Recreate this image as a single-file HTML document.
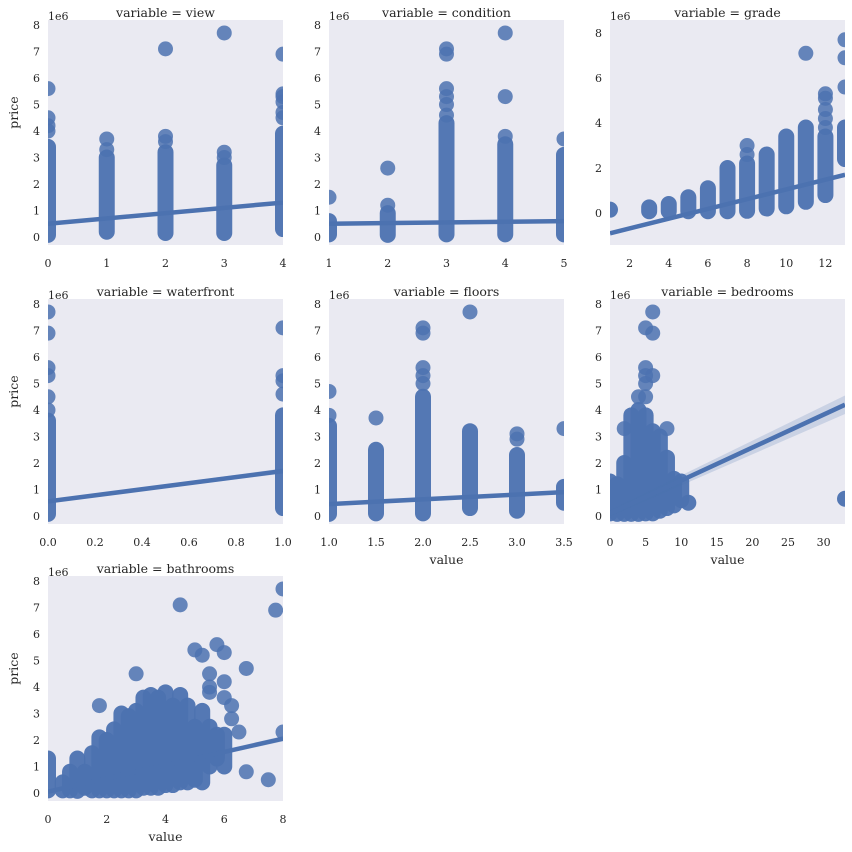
<!DOCTYPE html>
<html><head><meta charset="utf-8">
<style>
html,body{margin:0;padding:0;background:#fff;}
svg{display:block;font-family:"DejaVu Serif","Liberation Serif",serif;}
</style></head>
<body>
<svg id="chart" width="852" height="852" viewBox="0 0 852 852"></svg>
<script>
// ---- data (price in millions) ----
const panelNames = ["view","condition","grade","waterfront","floors","bedrooms","bathrooms"];
const xDomains = [[0,4],[1,5],[1,13],[0,1],[1,3.5],[0,33],[0,8]];
const xTicks = [[0,1,2,3,4],[1,2,3,4,5],[2,4,6,8,10,12],[0,0.2,0.4,0.6,0.8,1.0],[1,1.5,2,2.5,3,3.5],[0,5,10,15,20,25,30],[0,2,4,6,8]];
const xTickLabels = [["0","1","2","3","4"],["1","2","3","4","5"],["2","4","6","8","10","12"],["0.0","0.2","0.4","0.6","0.8","1.0"],["1.0","1.5","2.0","2.5","3.0","3.5"],["0","5","10","15","20","25","30"],["0","2","4","6","8"]];
const yTicksStd = [0,1,2,3,4,5,6,7,8];
const yTicksGrade = [0,2,4,6,8];
// stripes: [x, low, high]
const stripes = [
 [[0,0.08,3.4],[1,0.2,3.0],[2,0.15,3.2],[3,0.15,2.7],[4,0.3,3.9]],
 [[1,0.1,0.6],[2,0.08,0.9],[3,0.1,4.3],[4,0.1,3.5],[5,0.1,3.1]],
 [[1,0.15,0.15],[3,0.08,0.25],[4,0.08,0.4],[5,0.08,0.7],[6,0.08,1.1],[7,0.08,2.0],[8,0.1,2.2],[9,0.2,2.6],[10,0.3,3.4],[11,0.5,3.8],[12,0.8,3.4],[13,2.4,3.8]],
 [[0,0.08,3.6],[1,0.3,3.8]],
 [[1,0.08,3.4],[1.5,0.1,2.5],[2,0.1,4.5],[2.5,0.3,3.2],[3,0.2,2.3],[3.5,0.5,1.1]],
 [[0,0.1,1.3],[1,0.08,1.2],[2,0.08,2.0],[3,0.08,3.8],[4,0.08,4.0],[5,0.1,3.8],[6,0.1,3.2],[7,0.2,3.0],[8,0.3,2.2],[9,0.4,1.4],[10,0.6,1.3],[11,0.5,0.5],[33,0.65,0.65]],
 [[0,0.1,1.3],[0.5,0.1,0.4],[0.75,0.1,0.8],[1,0.08,1.3],[1.25,0.2,0.8],[1.5,0.1,1.5],[1.75,0.1,2.1],[2,0.1,2.0],[2.25,0.1,2.4],[2.5,0.1,3.0],[2.75,0.1,2.9],[3,0.1,3.1],[3.25,0.2,3.6],[3.5,0.2,3.7],[3.75,0.2,3.6],[4,0.3,3.8],[4.25,0.3,3.3],[4.5,0.4,3.7],[4.75,0.4,3.3],[5,0.5,2.5],[5.25,0.4,3.1],[5.5,1.0,2.5],[5.75,1.3,2.2],[6,1.0,2.2]]
];
// outlier points: [x, price]
const points = [
 [[0,4.0],[0,4.2],[0,4.5],[0,5.6],[1,3.3],[1,3.7],[2,3.6],[2,3.8],[2,7.1],[3,3.0],[3,3.2],[3,7.7],[4,4.5],[4,4.7],[4,5.1],[4,5.3],[4,5.4],[4,6.9]],
 [[1,1.5],[2,1.2],[2,2.6],[3,4.6],[3,5.0],[3,5.3],[3,5.6],[3,6.9],[3,7.1],[4,3.8],[4,5.3],[4,7.7],[5,3.7]],
 [[8,2.6],[8,3.0],[11,7.1],[12,3.8],[12,4.2],[12,4.6],[12,5.1],[12,5.3],[13,5.6],[13,6.9],[13,7.7]],
 [[0,4.0],[0,4.5],[0,5.3],[0,5.6],[0,6.9],[0,7.7],[1,4.6],[1,5.1],[1,5.3],[1,7.1]],
 [[1,3.8],[1,4.7],[1.5,3.7],[2,5.0],[2,5.3],[2,5.6],[2,6.9],[2,7.1],[2.5,7.7],[3,2.9],[3,3.1],[3.5,3.3]],
 [[2,3.3],[4,4.5],[5,4.5],[5,5.0],[5,5.3],[5,5.6],[5,7.1],[6,5.3],[6,6.9],[6,7.7],[8,3.3]],
 [[1.75,3.3],[3,4.5],[4.5,7.1],[5,5.4],[5.25,5.2],[5.5,3.8],[5.5,4.0],[5.5,4.5],[5.75,5.6],[6,3.6],[6,4.2],[6,5.3],[6.25,2.8],[6.25,3.3],[6.5,2.3],[6.75,0.8],[6.75,4.7],[7.5,0.5],[7.75,6.9],[8,7.7],[8,2.3]]
];
// regression line: [y at x-min, y at x-max]
const regLines = [[0.5,1.3],[0.5,0.6],[-0.9,1.7],[0.55,1.7],[0.45,0.9],[0.1,4.2],[0.05,2.05]];
// confidence band half-width at x-max
const bandWidth = [0.05,0.05,0.1,0.1,0.05,0.35,0.1];

// ---- layout ----
const svg = document.getElementById('chart');
const NS = "http://www.w3.org/2000/svg";
const colX = [48,329,610], rowY = [20,299,576], W = 235, H = 225;
const pos = [[0,0],[0,1],[0,2],[1,0],[1,1],[1,2],[2,0]];
const xlabelPanels = [4,5,6];
const ylabelPanels = [0,3,6];
const C = "#4c72b0";
function mk(tag, attrs, parent){const e=document.createElementNS(NS,tag);for(const k in attrs)e.setAttribute(k,attrs[k]);(parent||svg).appendChild(e);return e;}

panelNames.forEach((name,i)=>{
  const [r,c]=pos[i];
  const x0=colX[c], y0=rowY[r];
  const yd = name==="grade" ? [-1.42,8.58] : [-0.302,8.19];
  const xd = xDomains[i];
  const sx = v => x0 + (v-xd[0])/(xd[1]-xd[0])*W;
  const sy = v => y0 + H - (v-yd[0])/(yd[1]-yd[0])*H;
  const g = mk('g',{});
  
  
  const bg = mk('rect',{x:x0,y:y0,width:W,height:H,fill:"#eaeaf2"},g);
  
  
  const cp = mk('clipPath',{id:'cp'+i},g);
  mk('rect',{x:x0,y:y0,width:W,height:H},cp);
  const m = mk('g',{'clip-path':'url(#cp'+i+')'},g);
  stripes[i].forEach(s=>{
    const e = mk('rect',{x:sx(s[0])-8,y:sy(s[2])-8,width:16,height:sy(s[1])-sy(s[2])+16,rx:8,ry:8,fill:C,'fill-opacity':0.95},m);
    
    
  });
  points[i].forEach(p=>{
    const e = mk('circle',{cx:sx(p[0]),cy:sy(p[1]),r:7.5,fill:C,'fill-opacity':0.85},m);
    
    
  });
  const [a,b]=regLines[i], bw=bandWidth[i];
  const band = mk('polygon',{points:`${sx(xd[0])},${sy(a+bw/3)} ${sx(xd[1])},${sy(b+bw)} ${sx(xd[1])},${sy(b-bw)} ${sx(xd[0])},${sy(a-bw/3)}`,fill:C,'fill-opacity':0.2},m);
  
  
  const ln = mk('line',{x1:sx(xd[0]),y1:sy(a),x2:sx(xd[1]),y2:sy(b),stroke:C,'stroke-width':4.5},m);
  
  
  const t = mk('text',{x:x0+W/2,y:y0-3,'text-anchor':'middle','font-size':12.5,fill:'#262626'},g);
  t.textContent = 'variable = '+name;
  
  
  const yt = name==="grade"?yTicksGrade:yTicksStd;
  yt.forEach(v=>{
    const e = mk('text',{x:x0-8,y:sy(v)+4,'text-anchor':'end','font-size':11,fill:'#262626'},g);
    e.textContent = String(v);
    
    
  });
  const ex = mk('text',{x:x0,y:y0,'font-size':11,fill:'#262626'},g);
  ex.textContent = '1e6';
  
  
  xTicks[i].forEach((v,k)=>{
    const e = mk('text',{x:sx(v),y:y0+H+22,'text-anchor':'middle','font-size':11,fill:'#262626'},g);
    e.textContent = xTickLabels[i][k];
    
    
  });
  if(xlabelPanels.includes(i)){
    const e = mk('text',{x:x0+W/2,y:y0+H+40,'text-anchor':'middle','font-size':12.5,fill:'#262626'},g);
    e.textContent='value';
    
    
  }
  if(ylabelPanels.includes(i)){
    const cy=y0+H/2-20;
    const e = mk('text',{x:18,y:cy,'text-anchor':'middle','font-size':12.5,fill:'#262626',transform:`rotate(-90 18 ${cy})`},g);
    e.textContent='price';
    
    
  }
});
</script>
</body></html>
